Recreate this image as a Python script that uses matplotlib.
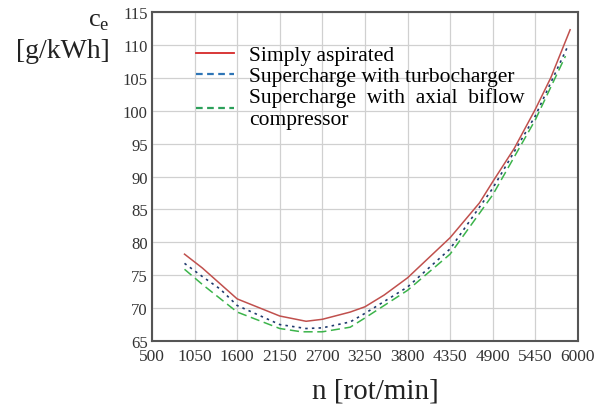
import matplotlib.pyplot as plt
import numpy as np
from matplotlib.lines import Line2D

plt.rcParams['font.family'] = ['Liberation Serif', 'DejaVu Serif']

# speed [rot/min]
n_red = [920, 1150, 1600, 2150, 2490, 2700, 3060, 3250, 3500, 3800, 4350, 4730, 4900, 5180, 5450, 5650, 5900]
ce_red = [78.2, 76.1, 71.4, 68.8, 68.0, 68.3, 69.4, 70.2, 72.0, 74.6, 80.7, 86.0, 89.2, 94.3, 100.2, 105.0, 112.3]

n_blue = [920, 1150, 1380, 1600, 2150, 2490, 2700, 3060, 3250, 3800, 4350, 4900, 5450, 5870]
ce_blue = [76.8, 74.8, 72.9, 70.4, 67.5, 66.9, 67.0, 67.9, 69.2, 73.2, 79.0, 88.2, 99.2, 109.8]

n_green = [920, 1150, 1600, 2150, 2430, 2700, 3060, 3250, 3800, 4350, 4900, 5450, 5840]
ce_green = [75.9, 73.6, 69.4, 66.9, 66.4, 66.4, 67.1, 68.5, 72.7, 78.2, 87.2, 98.6, 108.3]

x_ticks = np.arange(500, 6001, 550)
y_ticks = np.arange(65, 116, 5)

fig = plt.figure(figsize=(6.07, 4.06), dpi=100)
ax = fig.add_axes([0.2504, 0.1576, 0.7016, 0.8104])

ax.plot(n_red, ce_red, color='#c0504d', lw=1.1, label='Simply aspirated')
ax.plot(n_blue, ce_blue, color='#1f3a6e', lw=1.2, dashes=(1.5, 2.5), label='Supercharge with turbocharger')
ax.plot(n_green, ce_green, color='#3cb44b', lw=1.1, dashes=(6, 3),
        label='Supercharge  with  axial  biflow\ncompressor')

ax.set_xlim(500, 6000)
ax.set_ylim(65, 115)
ax.set_xticks(x_ticks)
ax.set_yticks(y_ticks)
ax.tick_params(axis='x', length=0, labelsize=12.5, colors='#333333', pad=5)
ax.tick_params(axis='y', length=0, labelsize=12, colors='#333333', pad=3)
ax.grid(True, color='#d0d0d0', lw=0.9)
for s in ax.spines.values():
    s.set_color('#555555')
    s.set_linewidth(1.5)

# legend with its own handle colours
handles = [Line2D([], [], color='#d62728', lw=1.3),
           Line2D([], [], color='#2e75b6', lw=1.6, dashes=(3, 2)),
           Line2D([], [], color='#2ca05a', lw=1.6, dashes=(3, 2))]
labels = [l.get_label() for l in ax.get_lines()]
ax.legend(handles, labels, loc='upper left', bbox_to_anchor=(0.083, 0.925), frameon=False,
          fontsize=15.5, handlelength=1.75, handletextpad=0.7, labelspacing=0.05,
          borderaxespad=0)

fig.text(0.163, 0.945, r'c$_\mathregular{e}$', fontsize=19, ha='center', va='center', color='#222222')
fig.text(0.104, 0.872, '[g/kWh]', fontsize=20, ha='center', va='center', color='#222222')
fig.text(0.618, 0.035, 'n [rot/min]', fontsize=21, ha='center', va='center', color='#222222')

fig.savefig('out.png', dpi=100)
